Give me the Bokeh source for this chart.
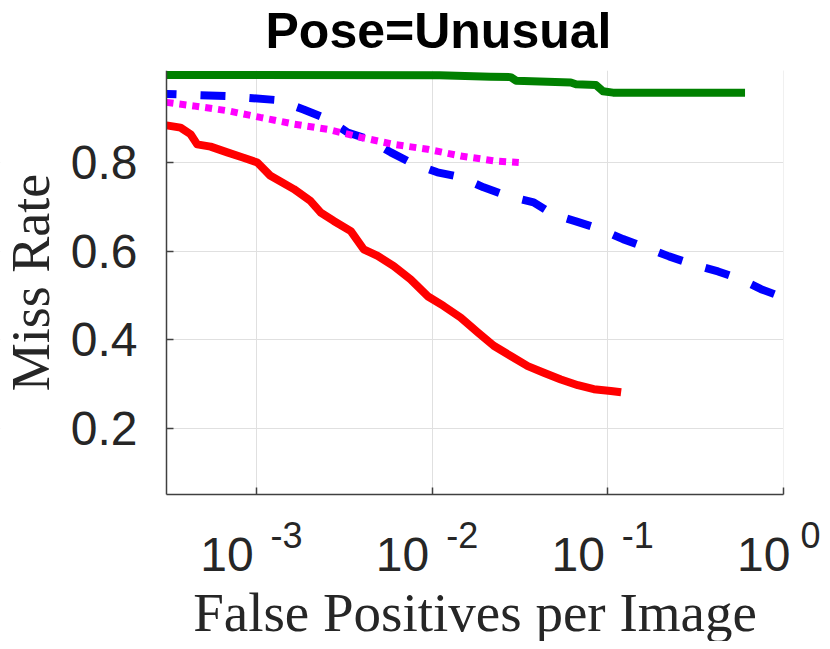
import math
from bokeh.plotting import figure
from bokeh.models import FixedTicker, Range1d, BoxAnnotation, Title
from bokeh.core.properties import value
from bokeh.embed import file_html
from bokeh.resources import INLINE

# ---- data ----
x_ticks = [1e-3, 1e-2, 1e-1, 1e0]
x_tick_base = ["10", "10", "10", "10"]
x_tick_exp = ["-3", "-2", "-1", "0"]
y_ticks = [0.2, 0.4, 0.6, 0.8]
x_label = "False Positives per Image"
y_label = "Miss Rate"
title = "Pose=Unusual"

green_fppi = [3.07e-4, 1.1e-2, 2.15e-2, 2.8e-2, 3.0e-2, 6.15e-2, 6.58e-2, 8.55e-2, 9.38e-2, 0.107, 0.604]
green_mr = [0.998, 0.997, 0.994, 0.993, 0.985, 0.981, 0.977, 0.975, 0.961, 0.958, 0.958]

blue_fppi = [3.07e-4, 6.84e-4, 1.32e-3, 1.85e-3, 2.54e-3, 3.30e-3, 4.30e-3, 5.81e-3, 7.53e-3,
             1.07e-2, 1.45e-2, 1.96e-2, 2.69e-2, 3.78e-2, 4.86e-2, 6.58e-2, 9.12e-2, 0.122,
             0.165, 0.223, 0.305, 0.424, 0.573, 0.745, 1.0]
blue_mr = [0.955, 0.950, 0.941, 0.920, 0.898, 0.868, 0.853, 0.823, 0.800,
           0.778, 0.767, 0.744, 0.724, 0.710, 0.683, 0.667, 0.649, 0.627,
           0.608, 0.588, 0.570, 0.554, 0.536, 0.514, 0.495]

magenta_fppi = [3.07e-4, 4.38e-4, 6.84e-4, 1.05e-3, 1.63e-3, 2.54e-3, 3.92e-3, 6.04e-3, 9.42e-3,
                1.45e-2, 2.24e-2, 3.11e-2]
magenta_mr = [0.936, 0.928, 0.917, 0.902, 0.887, 0.875, 0.857, 0.841, 0.830, 0.815, 0.804, 0.800]

red_fppi = [3.07e-4, 3.69e-4, 4.21e-4, 4.59e-4, 5.47e-4, 6.81e-4, 8.43e-4, 1.01e-3, 1.20e-3,
            1.63e-3, 2.03e-3, 2.32e-3, 2.75e-3, 3.44e-3, 4.07e-3, 4.89e-3, 6.04e-3, 7.53e-3,
            9.42e-3, 1.16e-2, 1.45e-2, 1.82e-2, 2.24e-2, 2.80e-2, 3.50e-2, 4.32e-2, 5.40e-2,
            6.75e-2, 8.32e-2, 0.104, 0.119]
red_mr = [0.884, 0.879, 0.864, 0.841, 0.836, 0.823, 0.811, 0.800, 0.770,
          0.740, 0.713, 0.687, 0.668, 0.645, 0.604, 0.589, 0.566, 0.536,
          0.498, 0.476, 0.450, 0.416, 0.386, 0.363, 0.340, 0.325, 0.310,
          0.297, 0.288, 0.284, 0.281]

X_START, X_END = 3.07e-4, 1.0
Y_START, Y_END = 0.05, 1.008

# ---- layout (pixels): axes box inside the canvas ----
W, H = 822, 641
FL, FR, FT, FB = 166, 783, 70, 494
ppd = (FR - FL) / (math.log10(X_END) - math.log10(X_START))
ppu = (FB - FT) / (Y_END - Y_START)
xr0 = 10 ** (math.log10(X_START) - FL / ppd)
xr1 = 10 ** (math.log10(X_END) + (W - FR) / ppd)
yr0 = Y_START - (H - FB) / ppu

TXT = "#262626"
AX = "#404040"

p = figure(width=W, height=H, x_axis_type="log",
           x_range=Range1d(xr0, xr1), y_range=Range1d(yr0, Y_END),
           output_backend="svg", toolbar_location=None,
           min_border_left=0, min_border_right=0, min_border_top=FT, min_border_bottom=0)
p.background_fill_color = "white"
p.border_fill_color = "white"
p.outline_line_color = None

# spacer between frame and title, then the title itself (further from the frame)
p.add_layout(Title(text=" ", text_font_size="1px", standoff=7), "above")
p.add_layout(Title(text=title, align="left", offset=265, standoff=0, vertical_align="top",
                   text_font="Liberation Sans", text_font_size="50px",
                   text_font_style="bold", text_color="black"), "above")

# axes pinned to the data box
p.xaxis.ticker = FixedTicker(ticks=x_ticks)
p.yaxis.ticker = FixedTicker(ticks=y_ticks)
p.xaxis.fixed_location = Y_START
p.yaxis.fixed_location = X_START
p.xaxis.bounds = (X_START, X_END)
p.yaxis.bounds = (Y_START, Y_END)
for ax in (p.xaxis[0], p.yaxis[0]):
    ax.axis_line_color = AX
    ax.axis_line_width = 1.5
    ax.major_tick_line_color = AX
    ax.major_tick_line_width = 1.5
    ax.major_tick_in = 7
    ax.major_tick_out = 0
    ax.minor_tick_line_color = None
    ax.axis_label_text_font = "Liberation Serif"
    ax.axis_label_text_font_style = "normal"
    ax.axis_label_text_color = TXT

p.xaxis.major_label_text_font_size = "1px"
p.xaxis.major_label_text_alpha = 0
p.xaxis.major_label_standoff = 0
p.xaxis.axis_label = x_label
p.xaxis.axis_label_text_font_size = "55px"
p.xaxis.axis_label_standoff = 87

p.yaxis.axis_label = y_label
p.yaxis.axis_label_text_font_size = "54px"
p.yaxis.axis_label_standoff = 7
p.yaxis.major_label_text_font = "Liberation Sans"
p.yaxis.major_label_text_font_size = "48px"
p.yaxis.major_label_text_color = TXT
p.yaxis.major_label_standoff = 29

p.xgrid.grid_line_color = "#e0e0e0"
p.ygrid.grid_line_color = "#e0e0e0"

# white masks so that grid lines stop at the data box
for kw in (dict(top=Y_START), dict(left=X_END), dict(right=X_START)):
    p.add_layout(BoxAnnotation(fill_color="white", fill_alpha=1.0, line_color=None,
                               level="underlay", **kw))

# curves
p.line(green_fppi, green_mr, line_color="#008000", line_width=8, line_join="round")
p.line(blue_fppi, blue_mr, line_color="#0000ff", line_width=8, line_dash="25 24", line_dash_offset=15)
p.line(magenta_fppi, magenta_mr, line_color="#ff00ff", line_width=7, line_dash="7 6")
p.line(red_fppi, red_mr, line_color="#ff0000", line_width=8, line_join="round")

# x tick labels: 10 with superscript exponent
base_dx = [-3 if len(e) > 1 else 7 for e in x_tick_exp]
sup_dx = [14 if len(e) > 1 else 17 for e in x_tick_exp]
base_y = [Y_START - (554 - FB) / ppu] * len(x_ticks)
sup_y = [Y_START - (534 - FB) / ppu] * len(x_ticks)
p.text(x=x_ticks, y=base_y, text=x_tick_base, x_offset=base_dx,
       text_align="right", text_baseline="alphabetic",
       text_font=value("Liberation Sans"), text_font_size="48px", text_color=TXT)
p.text(x=x_ticks, y=sup_y, text=x_tick_exp, x_offset=sup_dx,
       text_align="left", text_baseline="alphabetic",
       text_font=value("Liberation Sans"), text_font_size="36px", text_color=TXT)

open("out.html", "w").write(file_html(p, INLINE))
